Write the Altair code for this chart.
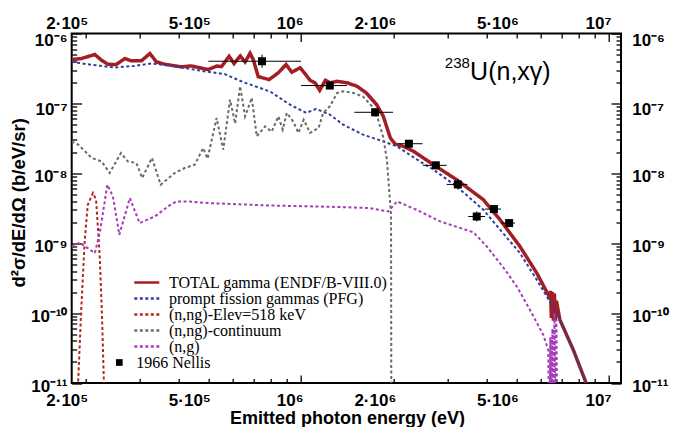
import altair as alt
import pandas as pd
import math

SUP = str.maketrans("0123456789-", "⁰¹²³⁴⁵⁶⁷⁸⁹⁻")

# ---------------- data ----------------
series_names = ["TOTAL gamma (ENDF/B-VIII.0)", "prompt fission gammas (PFG)",
                "(n,ng)-Elev=518 keV", "(n,ng)-continuum", "(n,g)"]
series_colors = ["#a11f24", "#2f3f9f", "#b3261e", "#6b6b6b", "#a63db8"]
series_dash = [[1, 0], [3, 2.5], [3, 2.5], [3, 2.5], [3, 2.5]]
series_width = [3.5, 2, 2, 2, 2]

total_E = [1.80e5, 1.935e5, 2.14e5, 2.25e5, 2.36e5, 2.51e5, 2.68e5, 2.81e5, 3.03e5, 3.23e5,
           3.39e5, 3.61e5, 4.09e5, 4.40e5, 4.99e5, 5.32e5, 5.52e5, 5.84e5, 6.06e5, 6.35e5,
           6.58e5, 6.83e5, 7.00e5, 7.26e5, 7.87e5, 8.44e5, 8.94e5, 9.33e5, 9.93e5, 1.03e6,
           1.07e6, 1.11e6, 1.15e6, 1.20e6, 1.24e6, 1.31e6, 1.41e6, 1.52e6, 1.63e6, 1.76e6,
           1.85e6, 1.95e6, 2.02e6, 2.15e6, 2.32e6, 2.69e6, 3.20e6, 3.91e6, 4.43e6, 5.14e6,
           5.83e6, 6.43e6, 6.46e6, 6.50e6, 6.55e6, 6.60e6, 6.65e6, 6.70e6, 6.75e6, 6.93e6,
           7.66e6, 8.36e6, 8.81e6]
total_V = [4.24e-7, 4.38e-7, 5.0e-7, 4.14e-7, 3.63e-7, 3.6e-7, 4.38e-7, 4.06e-7, 4.06e-7, 5.17e-7,
           3.93e-7, 3.63e-7, 3.33e-7, 3.44e-7, 3.05e-7, 3.42e-7, 3.37e-7, 4.73e-7, 3.72e-7, 4.76e-7,
           3.91e-7, 5.22e-7, 4.20e-7, 2.42e-7, 2.19e-7, 2.74e-7, 3.6e-7, 2.79e-7, 3.23e-7, 2.67e-7,
           2.14e-7, 1.97e-7, 1.54e-7, 2.14e-7, 1.97e-7, 2.07e-7, 1.97e-7, 1.76e-7, 1.41e-7, 9.6e-8,
           6.53e-8, 3.20e-8, 2.63e-8, 2.43e-8, 2.06e-8, 1.33e-8, 8.1e-9, 4.19e-9, 2.16e-9, 8.97e-10,
           3.73e-10, 1.65e-10, 2.08e-10, 8.5e-11, 2.0e-10, 7.8e-11, 1.9e-10, 8.0e-11, 1.5e-10, 7.99e-11,
           2.97e-11, 1.10e-11, 5.7e-12]

pfg_E = [1.80e5, 2.03e5, 2.48e5, 2.88e5, 3.27e5, 3.70e5, 4.30e5, 4.99e5, 5.65e5, 6.50e5,
         7.93e5, 9.21e5, 1.04e6, 1.12e6, 1.24e6, 1.37e6, 1.59e6, 1.85e6, 2.05e6, 2.43e6,
         2.69e6, 3.20e6, 3.91e6, 4.43e6, 5.14e6, 5.83e6, 6.43e6, 6.93e6, 7.66e6, 8.36e6, 8.81e6]
pfg_V = [3.93e-7, 3.63e-7, 3.26e-7, 3.44e-7, 3.72e-7, 3.51e-7, 3.15e-7, 2.83e-7, 2.63e-7, 2.01e-7,
         1.48e-7, 9.6e-8, 7.31e-8, 8.34e-8, 6.91e-8, 4.97e-8, 3.57e-8, 2.86e-8, 2.43e-8, 1.48e-8,
         1.13e-8, 6.49e-9, 3.01e-9, 1.56e-9, 7.22e-10, 2.99e-10, 1.46e-10, 7.99e-11, 2.97e-11, 1.10e-11, 5.7e-12]

elev_E = [1.88e5, 1.89e5, 1.935e5, 1.985e5, 2.03e5, 2.11e5, 2.16e5, 2.22e5, 2.26e5, 2.29e5, 2.30e5]
elev_V = [1e-12, 1.10e-11, 1.24e-10, 1.12e-9, 3.55e-9, 5.22e-9, 4.19e-9, 6.45e-10, 7.99e-11, 1.0e-11, 1e-12]

cont_E = [1.80e5, 1.89e5, 2.09e5, 2.25e5, 2.39e5, 2.60e5, 2.74e5, 2.92e5, 3.05e5, 3.28e5,
          3.50e5, 3.89e5, 4.19e5, 4.52e5, 4.81e5, 4.97e5, 5.32e5, 5.59e5, 5.88e5, 6.11e5,
          6.34e5, 6.58e5, 6.92e5, 7.18e5, 7.64e5, 8.03e5, 8.44e5, 8.72e5, 8.99e5, 9.44e5,
          9.80e5, 1.02e6, 1.07e6, 1.14e6, 1.18e6, 1.24e6, 1.31e6, 1.37e6, 1.48e6, 1.59e6,
          1.70e6, 1.78e6, 1.85e6, 1.90e6, 1.94e6, 1.96e6, 1.965e6]
cont_V = [2.86e-8, 2.57e-8, 1.66e-8, 1.48e-8, 1.01e-8, 1.95e-8, 1.48e-8, 1.40e-8, 8.57e-9, 1.66e-8,
          6.87e-9, 1.01e-8, 1.19e-8, 1.33e-8, 2.30e-8, 1.62e-8, 6.20e-8, 2.18e-8, 1.13e-7, 5.14e-8,
          1.76e-7, 6.53e-8, 1.20e-7, 3.38e-8, 4.70e-8, 3.94e-8, 6.53e-8, 4.21e-8, 7.31e-8, 5.49e-8,
          3.78e-8, 5.86e-8, 3.78e-8, 4.46e-8, 7.31e-8, 9.09e-8, 1.41e-7, 1.49e-7, 1.41e-7, 1.25e-7,
          9.09e-8, 5.86e-8, 3.24e-8, 1.57e-8, 4.67e-9, 2.55e-9, 1e-12]

ng_E = [1.80e5, 1.91e5, 2.14e5, 2.22e5, 2.35e5, 2.45e5, 2.57e5, 2.78e5, 2.99e5, 3.35e5,
        3.70e5, 3.94e5, 4.30e5, 4.99e5, 7.81e5, 1.34e6, 1.67e6, 1.92e6, 2.05e6, 2.37e6,
        2.83e6, 3.63e6, 4.01e6, 4.60e6, 5.02e6, 5.54e6, 6.12e6, 6.35e6, 6.41e6, 6.45e6,
        6.50e6, 6.55e6, 6.60e6, 6.65e6, 6.70e6, 6.75e6, 6.80e6]
ng_V = [8.97e-10, 1.02e-9, 7.22e-10, 1.40e-9, 6.87e-9, 4.67e-9, 1.32e-9, 4.43e-9, 1.94e-9, 2.41e-9,
        3.36e-9, 3.96e-9, 3.96e-9, 3.75e-9, 3.47e-9, 3.29e-9, 3.18e-9, 2.85e-9, 3.96e-9, 3.01e-9,
        2.05e-9, 1.43e-9, 8.97e-10, 4.16e-10, 2.40e-10, 1.11e-10, 4.87e-11, 2.97e-11, 1e-12, 4.5e-11,
        1e-12, 6e-11, 1e-12, 1.0e-10, 1e-12, 8e-11, 1e-12]

nellis_label = "1966 Nellis"
nel_E = [7.47e5, 1.24e6, 1.74e6, 2.24e6, 2.74e6, 3.23e6, 3.72e6, 4.23e6, 4.74e6]
nel_V = [4.01e-7, 1.80e-7, 7.46e-8, 2.65e-8, 1.30e-8, 6.93e-9, 2.41e-9, 3.08e-9, 1.94e-9]
nel_Elo = [5.0e5, 1.0e6, 1.49e6, 2.07e6, 2.49e6, 2.97e6, 3.49e6, 3.96e6, 4.46e6]
nel_Ehi = [1.0e6, 1.41e6, 1.99e6, 2.48e6, 2.97e6, 3.47e6, 3.96e6, 4.46e6, 4.95e6]
nel_Vlo = [3.23e-7, 1.64e-7, 6.5e-8, 2.3e-8, 1.15e-8, 5.9e-9, 2.05e-9, 2.7e-9, 1.76e-9]
nel_Vhi = [4.97e-7, 1.98e-7, 8.5e-8, 3.0e-8, 1.47e-8, 8.2e-9, 2.85e-9, 3.5e-9, 2.13e-9]

ann_text = ["238", "U(n,xγ)"]
ann_E = [2.93e6, 3.54e6]
ann_V = [3.17e-7, 2.19e-7]
ann_size = [15, 25]

x_domain = [1.80e5, 1.094e7]
y_domain = [1e-11, 1e-6]
x_major = [1e6, 1e7]
x_minor = [k * 10 ** n for n in (5, 6) for k in range(2, 10)]
x_labels = {2e5: "2·10⁵", 5e5: "5·10⁵", 1e6: "10⁶", 2e6: "2·10⁶", 5e6: "5·10⁶", 1e7: "10⁷"}
y_major = [1e-11, 1e-10, 1e-9, 1e-8, 1e-7, 1e-6]
y_minor = [k * 10.0 ** n for n in range(-11, -6) for k in range(2, 10)]
y_labels = {v: ("10" + str(int(round(math.log10(v)))).translate(SUP)) for v in y_major}

x_title = "Emitted photon energy (eV)"
y_title = "d²σ/dE/dΩ (b/eV/sr)"

# ---------------- tables ----------------
series_data = [total_E, pfg_E, elev_E, cont_E, ng_E]
series_vals = [total_V, pfg_V, elev_V, cont_V, ng_V]
frames = [pd.DataFrame({"E": e, "V": v, "series": n}) for n, e, v in zip(series_names, series_data, series_vals)]
nel_df = pd.DataFrame({"E": nel_E, "V": nel_V, "Elo": nel_Elo, "Ehi": nel_Ehi,
                       "Vlo": nel_Vlo, "Vhi": nel_Vhi, "src": nellis_label})

# ---------------- style ----------------
W, H = 549.3, 349.5
PAD = {"left": 71.7, "top": 33.5, "right": 673 - 71.7 - W, "bottom": 427 - 33.5 - H}
LFONT = "Liberation Sans"

def lab_expr(mapping):
    expr = "''"
    for v, s in sorted(mapping.items(), reverse=True):
        expr = f"abs(datum.value/{v!r}-1)<1e-6 ? '{s}' : ({expr})"
    return expr

xscale = alt.Scale(type="log", domain=x_domain, nice=False)
yscale = alt.Scale(type="log", domain=y_domain, nice=False)

common = dict(domain=False, grid=False, tickColor="black", tickWidth=1.3,
              labelFont=LFONT, labelFontSize=17, labelFontWeight="bold", labelColor="black",
              labelOverlap=False, labelFlush=False, labelBound=False)

def xaxis(orient, values, ts, with_title=False):
    kw = dict(common)
    kw.update(orient=orient, values=values, tickSize=ts, offset=-ts,
              labelExpr=lab_expr({k: v for k, v in x_labels.items() if any(abs(k / q - 1) < 1e-6 for q in values)}),
              labelAlign="right", labelBaseline="alphabetic", labelOffset=2,
              labelPadding=22.5 if orient == "bottom" else 5.2)
    if with_title:
        kw.update(title=x_title, titleFont=LFONT, titleFontSize=18, titleFontWeight="bold",
                  titleColor="black", titleX=275.3, titleY=48.3, titleAlign="center",
                  titleBaseline="alphabetic", titleAngle=0)
    else:
        kw.update(title=None)
    return alt.Axis(**kw)

def yaxis(orient, values, ts, labels, with_title=False):
    kw = dict(common)
    kw.update(orient=orient, values=values, tickSize=ts, offset=-ts)
    if labels:
        kw.update(labelExpr=lab_expr(y_labels), labelBaseline="alphabetic",
                  labelAlign="right" if orient == "left" else "left",
                  labelPadding=4.7 if orient == "left" else 10.7,
                  labelOffset={"condition": {"test": "datum.value > 5e-8", "value": 11.5}, "value": 8})
    else:
        kw.update(labels=False)
    if with_title:
        kw.update(title=y_title, titleFont=LFONT, titleFontSize=18.5, titleFontWeight="bold",
                  titleColor="black", titleX=-63.2, titleY=168.8, titleAngle=270,
                  titleAlign="center", titleBaseline="middle")
    else:
        kw.update(title=None)
    return alt.Axis(**kw)

# a long flat stroke drawn inside a small symbol cell, so that the rows stay tight
series_legend = alt.Legend(
    orient="none", legendX=67.1, legendY=241, title=None, symbolType="M-2.5,0H2.5",
    symbolSize=100, symbolStrokeWidth=2.5, labelFont="Liberation Serif", labelFontSize=16,
    labelColor="black", labelLimit=400, labelOffset=14.2, rowPadding=0, padding=0)

nellis_legend = alt.Legend(
    orient="none", legendX=39.6, legendY=321, title=None, symbolSize=45,
    symbolFillColor="black", symbolStrokeColor="black", symbolStrokeWidth=0,
    labelFont="Liberation Serif", labelFontSize=16, labelColor="black", labelOffset=9, padding=0)

axis_sets = [
    (xaxis("bottom", x_major, 8, True), yaxis("left", y_major, 10, True, True)),
    (xaxis("bottom", x_minor, 4.5), yaxis("left", y_minor, 5, False)),
    (xaxis("top", x_major, 8), yaxis("right", y_major, 10, True)),
    (xaxis("top", x_minor, 4.5), yaxis("right", y_minor, 5, False)),
    (None, None),
]

layers = []
for i, df in enumerate(frames):
    ax, ay = axis_sets[i]
    layers.append(
        alt.Chart(df).mark_line(clip=True, strokeWidth=series_width[i], strokeCap="butt",
                                interpolate="linear").encode(
            x=alt.X("E:Q", scale=xscale, axis=ax),
            y=alt.Y("V:Q", scale=yscale, axis=ay),
            color=alt.Color("series:N", scale=alt.Scale(domain=series_names, range=series_colors),
                            legend=series_legend),
            strokeDash=alt.StrokeDash("series:N", scale=alt.Scale(domain=series_names, range=series_dash),
                                      legend=series_legend),
        )
    )

xerr = alt.Chart(nel_df).mark_rule(color="black", strokeWidth=1, clip=True).encode(
    x=alt.X("Elo:Q", scale=xscale, axis=None), x2="Ehi:Q",
    y=alt.Y("V:Q", scale=yscale, axis=None))
yerr = alt.Chart(nel_df).mark_rule(color="black", strokeWidth=1, clip=True).encode(
    x=alt.X("E:Q", scale=xscale, axis=None),
    y=alt.Y("Vlo:Q", scale=yscale, axis=None), y2="Vhi:Q")
pts = alt.Chart(nel_df).mark_point(filled=True, color="black", size=64, opacity=1).encode(
    x=alt.X("E:Q", scale=xscale, axis=None),
    y=alt.Y("V:Q", scale=yscale, axis=None),
    shape=alt.Shape("src:N", scale=alt.Scale(domain=[nellis_label], range=["square"]),
                    legend=nellis_legend))

ann_layers = []
for t, e, v, s in zip(ann_text, ann_E, ann_V, ann_size):
    ann_layers.append(
        alt.Chart(pd.DataFrame({"E": [e], "V": [v], "t": [t]})).mark_text(
            align="left", baseline="alphabetic", font=LFONT, fontSize=s, color="black").encode(
            x=alt.X("E:Q", scale=xscale, axis=None),
            y=alt.Y("V:Q", scale=yscale, axis=None),
            text="t:N"))

chart = alt.layer(*layers, xerr, yerr, pts, *ann_layers).resolve_axis(
    x="independent", y="independent"
).properties(
    width=W, height=H, autosize=alt.AutoSizeParams(type="none"), padding=PAD,
    background="white"
).configure_view(stroke="black", strokeWidth=2)

chart.save("out.html", embed_options={"renderer": "svg", "actions": False})
